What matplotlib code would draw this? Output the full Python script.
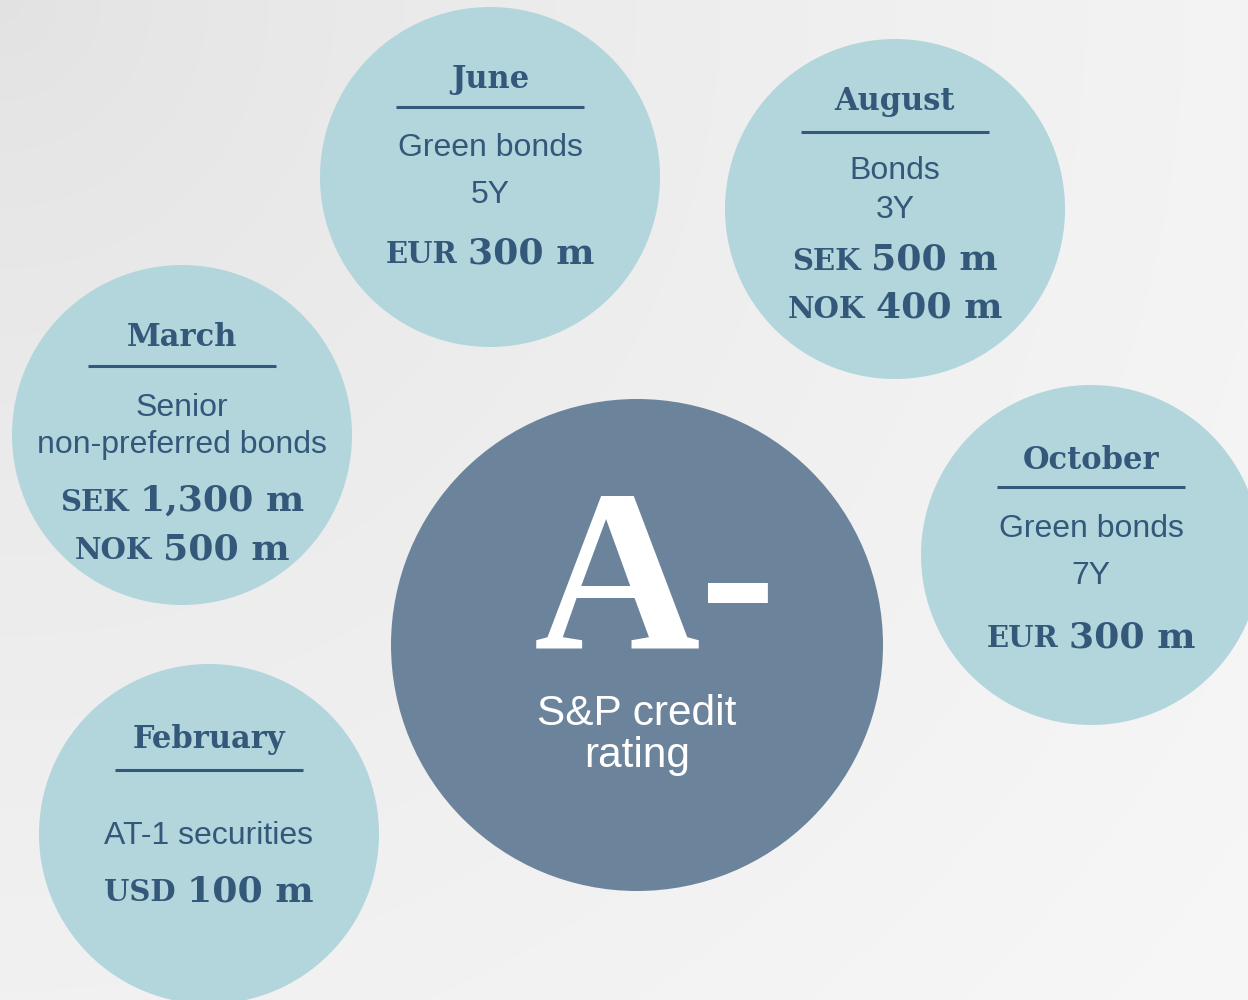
import numpy as np
import matplotlib
matplotlib.use("Agg")
import matplotlib.pyplot as plt
from matplotlib.patches import Circle

# ---------------- data ----------------
months = ["February", "March", "June", "August", "October"]
instruments = [
    ["AT-1 securities"],
    ["Senior", "non-preferred bonds"],
    ["Green bonds", "5Y"],
    ["Bonds", "3Y"],
    ["Green bonds", "7Y"],
]
currencies = [["USD"], ["SEK", "NOK"], ["EUR"], ["SEK", "NOK"], ["EUR"]]
amounts_m = [[100], [1300, 500], [300], [500, 400], [300]]
rating = "A-"
rating_label = ["S&P credit", "rating"]

# ---------------- layout (pixel coordinates) ----------------
layout = [
    dict(c=(209, 834), r=170, title=748, rule=770, desc=[844], amt=[901]),
    dict(c=(182, 435), r=170, title=346, rule=366, desc=[416, 453], amt=[511, 559]),
    dict(c=(490, 177), r=170, title=88, rule=107, desc=[156, 203], amt=[263]),
    dict(c=(895, 209), r=170, title=110, rule=132, desc=[179, 218], amt=[270, 318]),
    dict(c=(1091, 555), r=170, title=469, rule=487, desc=[537, 584], amt=[647]),
]
center_layout = dict(c=(637, 645), r=246, rating_y=648, rating_x=655, label_y=[725, 767])

W, H = 1248, 1000
TXT = "#33587a"
LIGHT = "#b2d6dc"
DARK = "#6b849c"
SERIF = "DejaVu Serif"
SANS = "Liberation Sans"

fig = plt.figure(figsize=(W / 100, H / 100), dpi=100)
ax = fig.add_axes([0, 0, 1, 1])
ax.set_xlim(0, W)
ax.set_ylim(H, 0)
ax.axis("off")

# background gradient, darkest at top-left corner
yy, xx = np.mgrid[0:H:4, 0:W:4]
d = np.sqrt(xx ** 2 + yy ** 2) / np.hypot(W, H)
t = np.clip(d, 0, 1) ** 0.7
v = (226 + (247 - 226) * t) / 255.0
img = np.dstack([v, v, v])
ax.imshow(img, extent=(0, W, H, 0), zorder=0, interpolation="bilinear")

fig.canvas.draw()
renderer = fig.canvas.get_renderer()
inv = ax.transData.inverted()


def width_of(txt):
    bb = txt.get_window_extent(renderer=renderer)
    p0 = inv.transform((bb.x0, bb.y0))
    p1 = inv.transform((bb.x1, bb.y1))
    return abs(p1[0] - p0[0])


def amount_line(cx, y, cur, val):
    t1 = ax.text(0, y, cur, fontsize=21, fontweight="bold", family=SERIF,
                 color=TXT, ha="left", va="baseline", zorder=5)
    t2 = ax.text(0, y, f"{val:,} m", fontsize=26, fontweight="bold", family=SERIF,
                 color=TXT, ha="left", va="baseline", zorder=5)
    w1, w2 = width_of(t1), width_of(t2)
    gap = 11
    x0 = cx - (w1 + gap + w2) / 2
    t1.set_x(x0)
    t2.set_x(x0 + w1 + gap)


for m, ins, curs, amts, lay in zip(months, instruments, currencies, amounts_m, layout):
    cx, cy = lay["c"]
    ax.add_patch(Circle((cx, cy), lay["r"], facecolor=LIGHT, edgecolor="none", zorder=2))
    ax.text(cx, lay["title"], m, fontsize=22, fontweight="bold", family=SERIF,
            color=TXT, ha="center", va="baseline", zorder=5)
    ax.plot([cx - 94, cx + 94], [lay["rule"], lay["rule"]], color=TXT, lw=2.2,
            solid_capstyle="butt", zorder=5)
    for line, y in zip(ins, lay["desc"]):
        ax.text(cx, y, line, fontsize=23, family=SANS, color=TXT,
                ha="center", va="baseline", zorder=5)
    for cur, val, y in zip(curs, amts, lay["amt"]):
        amount_line(cx, y, cur, val)

# central circle
cx, cy = center_layout["c"]
ax.add_patch(Circle((cx, cy), center_layout["r"], facecolor=DARK, edgecolor="none", zorder=3))
ax.text(center_layout["rating_x"], center_layout["rating_y"], rating, fontsize=166,
        fontweight="bold", family="Liberation Serif", color="white",
        ha="center", va="baseline", zorder=6)
for line, y in zip(rating_label, center_layout["label_y"]):
    ax.text(cx, y, line, fontsize=30.5, family=SANS, color="white",
            ha="center", va="baseline", zorder=6)

fig.savefig("out.png", dpi=100)
